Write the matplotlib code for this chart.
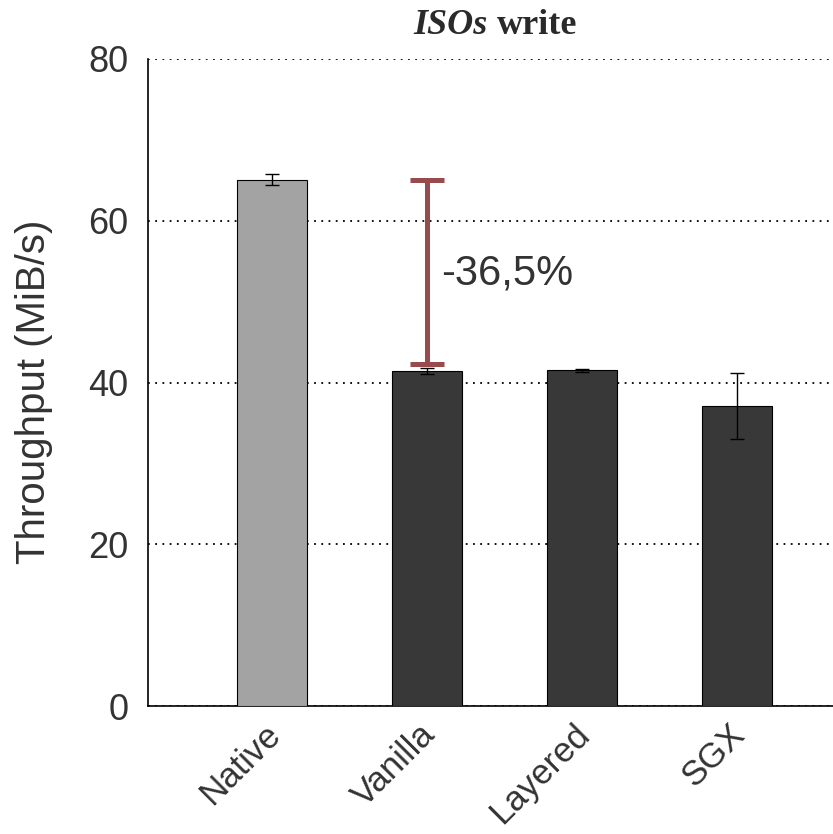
import matplotlib.pyplot as plt
from matplotlib.transforms import offset_copy

# === Data ===
categories = ["Native", "Vanilla", "Layered", "SGX"]
throughput = [65.1, 41.4, 41.5, 37.1]
errors = [0.7, 0.4, 0.2, 4.1]
bar_colors = ["#a3a3a3", "#383838", "#383838", "#383838"]

# overhead bracket between Native and Vanilla
bracket_top = 65.0
bracket_bottom = 42.3
bracket_label = "-36,5%"

# === Plot ===
plt.rcParams["font.family"] = ["Liberation Sans", "DejaVu Sans"]
fig = plt.figure(figsize=(8.33, 8.34), dpi=100)
ax = fig.add_axes([148 / 833, 1 - 706 / 834, 1 - 148 / 833, (706 - 59) / 834])

x = list(range(len(categories)))
ax.bar(x, throughput, width=0.45, color=bar_colors, edgecolor="black",
       linewidth=0.8, zorder=3)
ax.errorbar(x, throughput, yerr=errors, fmt="none", ecolor="black",
            elinewidth=1, capsize=5, capthick=1, zorder=4)

# red bracket on Vanilla
mid = (bracket_top + bracket_bottom) / 2
half = (bracket_top - bracket_bottom) / 2
ax.errorbar([1], [mid], yerr=[half], fmt="none", ecolor="#994a4d",
            elinewidth=3.6, capsize=12, capthick=3.6, zorder=5)
ax.text(1.09, 53.5, bracket_label, fontsize=30, color="#333333",
        ha="left", va="center", zorder=6)

ax.set_xlim(-0.8, 3.62)
ax.set_ylim(0, 80)
ax.set_yticks([0, 20, 40, 60, 80])
ax.yaxis.grid(True, linestyle=(0, (1, 3)), color="black", linewidth=1.3)
ax.set_axisbelow(True)

ax.set_xticks(x)
ax.set_xticklabels(categories, rotation=45, ha="right", va="center",
                   rotation_mode="anchor", fontsize=25, color="#333333")
ax.tick_params(axis="y", length=0, labelsize=26, labelcolor="#333333", pad=14)
ax.tick_params(axis="x", length=0, labelsize=25, labelcolor="#333333", pad=14)
for lbl in ax.get_xticklabels():
    lbl.set_transform(offset_copy(lbl.get_transform(), fig=fig, x=3, y=-4, units="dots"))
ax.set_ylabel("Throughput (MiB/s)", fontsize=29, color="#333333")
ax.yaxis.set_label_coords(-0.138, 0.486)

for side in ["top", "right"]:
    ax.spines[side].set_visible(False)
ax.spines["left"].set_linewidth(1.2)
ax.spines["bottom"].set_linewidth(1.2)

# title: italic "ISOs" + upright "write", both bold serif
fig.text(488 / 833, 1 - 25 / 834, "ISOs", ha="right", va="center", fontsize=26,
         fontweight="bold", fontstyle="italic", family="Liberation Serif", color="#2a2a2a")
fig.text(497 / 833, 1 - 25 / 834, "write", ha="left", va="center", fontsize=26,
         fontweight="bold", family="Liberation Serif", color="#2a2a2a")

plt.savefig("out.png", dpi=100)
